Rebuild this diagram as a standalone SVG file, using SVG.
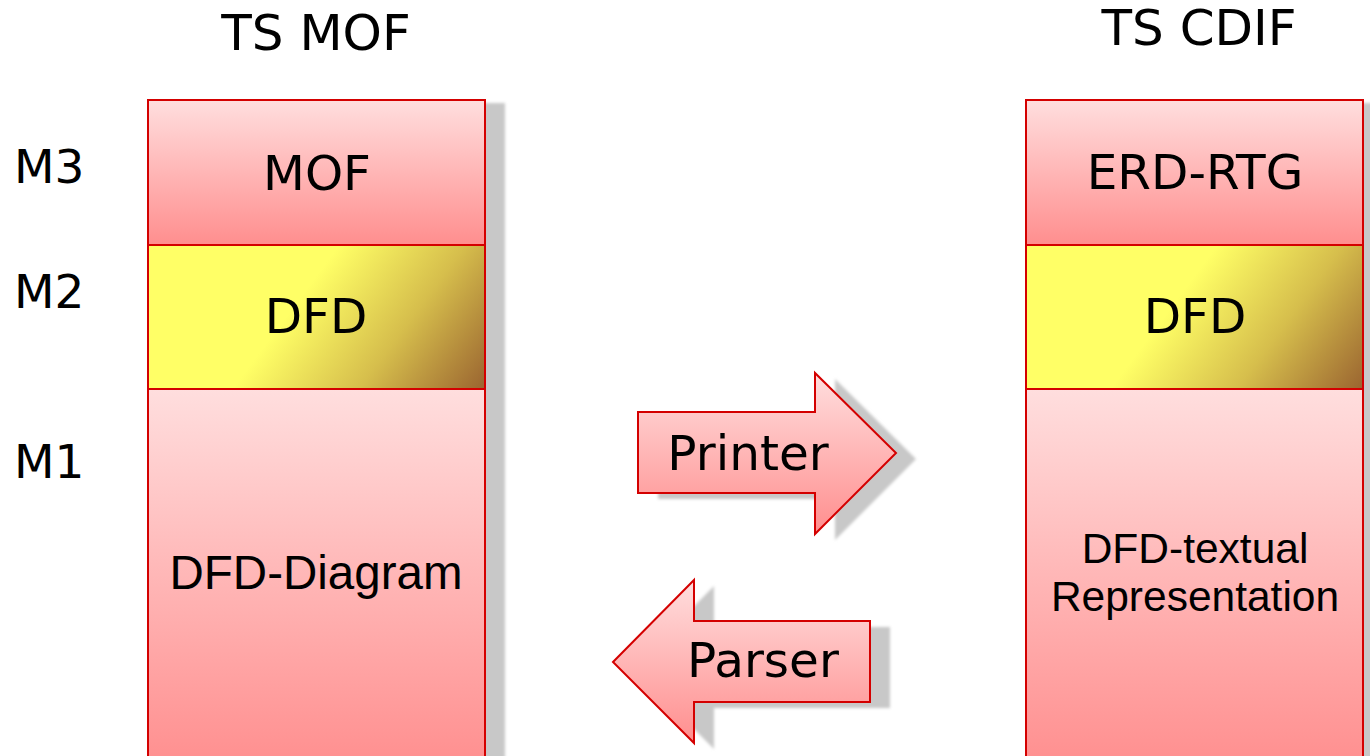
<svg xmlns="http://www.w3.org/2000/svg" width="1370" height="756" viewBox="0 0 1370 756">
<style>
.v{font-family:"DejaVu Sans",Verdana,sans-serif;fill:#000}
.a{font-family:"Liberation Sans",Arial,sans-serif;fill:#000}
.red{fill:url(#gRed);stroke:#D40000;stroke-width:2}
.yelL{fill:url(#gYelL);stroke:#D40000;stroke-width:2}
.yelR{fill:url(#gYelR);stroke:#D40000;stroke-width:2}
.sh{fill:#C8C8C8;filter:url(#blur)}
</style>
<defs>
<linearGradient id="gRed" x1="0" y1="0" x2="0" y2="1">
<stop offset="0" stop-color="#FFDEDE"/>
<stop offset="1" stop-color="#FF8E8E"/>
</linearGradient>
<linearGradient id="gYelL" gradientUnits="userSpaceOnUse" x1="123" y1="196" x2="449" y2="438">
<stop offset="0" stop-color="#FFFF66"/>
<stop offset="0.5" stop-color="#FFFF66"/>
<stop offset="0.75" stop-color="#D6BE4C"/>
<stop offset="1" stop-color="#9A6430"/>
</linearGradient>
<linearGradient id="gYelR" gradientUnits="userSpaceOnUse" x1="1001" y1="196" x2="1327" y2="438">
<stop offset="0" stop-color="#FFFF66"/>
<stop offset="0.5" stop-color="#FFFF66"/>
<stop offset="0.75" stop-color="#D6BE4C"/>
<stop offset="1" stop-color="#9A6430"/>
</linearGradient>
<filter id="blur" x="-10%" y="-10%" width="120%" height="120%">
<feGaussianBlur stdDeviation="1.5"/>
</filter>
</defs>
<rect width="1370" height="756" fill="#FFFFFF"/>

<g id="labels">
<text class="v" x="316" y="50" font-size="50" text-anchor="middle">TS MOF</text>
<text class="v" x="1199" y="45" font-size="50" text-anchor="middle">TS CDIF</text>
<text class="v" x="14" y="183" font-size="47">M3</text>
<text class="v" x="14" y="308" font-size="47">M2</text>
<text class="v" x="14" y="478" font-size="47">M1</text>
</g>

<g id="shadows">
<rect class="sh" x="168" y="103" width="337" height="700"/>
<rect class="sh" x="1046" y="103" width="337" height="700"/>
<path class="sh" d="M658,418 H835 V379 L916,459 L835,540 V499 H658 Z"/>
<path class="sh" d="M633,668 L714,586 V627 H890 V708 H714 V749 Z"/>
</g>

<g id="mof-m3">
<rect class="red" x="148" y="100" width="337" height="145"/>
<text class="v" x="317" y="190" font-size="48.5" text-anchor="middle">MOF</text>
</g>
<g id="mof-m2">
<rect class="yelL" x="148" y="245" width="337" height="144"/>
<text class="v" x="316" y="333" font-size="48.5" text-anchor="middle">DFD</text>
</g>
<g id="mof-m1">
<rect class="red" x="148" y="389" width="337" height="380"/>
<text class="a" x="316" y="589" font-size="47.5" text-anchor="middle">DFD-Diagram</text>
</g>

<g id="cdif-m3">
<rect class="red" x="1026" y="100" width="337" height="145"/>
<text class="v" x="1195" y="189" font-size="48.5" text-anchor="middle">ERD-RTG</text>
</g>
<g id="cdif-m2">
<rect class="yelR" x="1026" y="245" width="337" height="144"/>
<text class="v" x="1195" y="333" font-size="48.5" text-anchor="middle">DFD</text>
</g>
<g id="cdif-m1">
<rect class="red" x="1026" y="389" width="337" height="380"/>
<text class="a" x="1195" y="563" font-size="42.5" text-anchor="middle">DFD-textual</text>
<text class="a" x="1195" y="611" font-size="42.5" text-anchor="middle">Representation</text>
</g>

<g id="connectors">
<g id="printer">
<path class="red" d="M638,412 H815 V373 L896,453 L815,534 V493 H638 Z"/>
<text class="v" x="748" y="470" font-size="48.5" text-anchor="middle">Printer</text>
</g>
<g id="parser">
<path class="red" d="M613,662 L694,580 V621 H870 V702 H694 V743 Z"/>
<text class="v" x="763" y="677" font-size="48.5" text-anchor="middle">Parser</text>
</g>
</g>
</svg>
